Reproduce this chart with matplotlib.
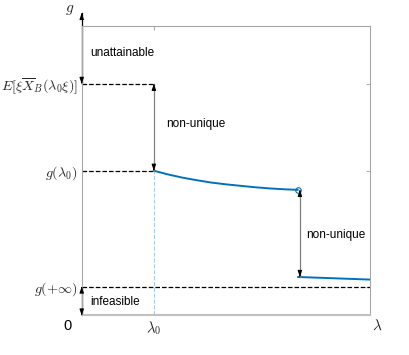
import numpy as np
import matplotlib
matplotlib.use('Agg')
import matplotlib.pyplot as plt

plt.rcParams['font.family'] = ['Liberation Sans', 'DejaVu Sans']
plt.rcParams['mathtext.fontset'] = 'cm'

# data
lam0 = 2.5
lam_jump = 7.5
g_inf = 1.0
g_lam0 = 5.0
e_top = 8.0
curve_x = [2.5, 3.0, 3.5, 4.0, 4.5, 5.0, 5.5, 6.0, 6.5, 7.0, 7.48]
curve_y = [5.0, 4.87, 4.76, 4.67, 4.59, 4.53, 4.48, 4.43, 4.39, 4.36, 4.34]
low_x = [7.5, 10.0]
low_y = [1.33, 1.24]
ytick_vals = [g_inf, g_lam0, e_top]
ytick_labels = [r'$g(+\infty)$', r'$g(\lambda_0)$', r'$E[\xi\overline{X}_B(\lambda_0\xi)]$']

blue = '#0072BD'
gray = '#808080'
txt = '#262626'

fig = plt.figure(figsize=(4.09, 3.55), dpi=100)
ax = fig.add_axes([0.1998, 0.1113, 0.7056, 0.8155])
ax.set_xlim(0, 10)
ax.set_ylim(0, 10)

for s in ax.spines.values():
    s.set_color('#a6a6a6')
    s.set_linewidth(0.8)
ax.spines['bottom'].set_linewidth(1.5)
ax.spines['bottom'].set_color('#c0c0c0')

ax.set_xticks([lam0])
ax.set_xticklabels([r'$\lambda_0$'], fontsize=10.5, color=txt)
ax.set_yticks(ytick_vals)
ax.set_yticklabels(ytick_labels, fontsize=10.2, color=txt)
ax.tick_params(direction='in', length=3, top=True, right=True, color='#b0b0b0', pad=3)

# dashed guides
ax.plot([0, lam0], [e_top, e_top], 'k--', lw=0.9)
ax.plot([0, lam0], [g_lam0, g_lam0], 'k--', lw=0.9)
ax.plot([0, 10], [g_inf, g_inf], 'k--', lw=0.9)
ax.plot([lam0, lam0], [0, g_lam0], ls='--', color='#a8cbe8', lw=0.8)

# g(lambda)
ax.plot(curve_x, curve_y, color=blue, lw=1.4)
ax.plot(low_x, low_y, color=blue, lw=1.4)
ax.plot([curve_x[-1]], [curve_y[-1]], 'o', mfc='none', mec=blue, ms=4, mew=0.8)


def darrow(x, y0, y1, shaft='k', lw=0.9):
    ax.plot([x, x], [y0, y1], color=shaft, lw=lw, clip_on=False)
    hs = dict(arrowstyle='-|>,head_length=0.35,head_width=0.12', color='k', lw=0.8,
              shrinkA=0, shrinkB=0)
    d = 0.05 if y1 > y0 else -0.05
    ax.annotate('', xy=(x, y1), xytext=(x, y1 - d), arrowprops=hs, annotation_clip=False)
    ax.annotate('', xy=(x, y0), xytext=(x, y0 + d), arrowprops=hs, annotation_clip=False)


darrow(0, e_top, 10.45)
darrow(0, 0, g_inf)
darrow(lam0, g_lam0, e_top, shaft=gray)
darrow(7.56, low_y[0], curve_y[-1], shaft=gray)

ax.text(0.29, 9.05, 'unattainable', fontsize=8.5, va='center', ha='left')
ax.text(2.92, 6.6, 'non-unique', fontsize=8.5, va='center', ha='left')
ax.text(7.77, 2.78, 'non-unique', fontsize=8.5, va='center', ha='left')
ax.text(0.31, 0.48, 'infeasible', fontsize=8.5, va='center', ha='left')

fig.text(67 / 409, 1 - 326 / 355, '0', fontsize=10.5, ha='center', va='center')
fig.text(377 / 409, 1 - 326 / 355, r'$\lambda$', fontsize=11, ha='center', va='center', color=txt)
fig.text(70 / 409, 1 - 10 / 355, r'$g$', fontsize=11, ha='center', va='center', color=txt)

fig.savefig('out.png', dpi=100)
